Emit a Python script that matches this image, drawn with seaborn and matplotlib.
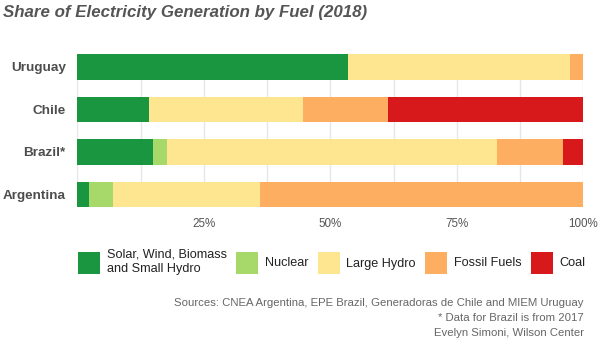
import matplotlib
matplotlib.use("Agg")
import matplotlib.pyplot as plt
from matplotlib.patches import Patch
from matplotlib.ticker import MultipleLocator, FixedLocator
import seaborn as sns
import pandas as pd
import numpy as np

# ---- data ----
countries = ["Uruguay", "Chile", "Brazil*", "Argentina"]
fuels = ["Solar, Wind, Biomass\nand Small Hydro", "Nuclear", "Large Hydro", "Fossil Fuels", "Coal"]
solar_wind_biomass = [53.5, 14.2, 15.0, 2.4]
nuclear = [0.0, 0.0, 2.7, 4.7]
large_hydro = [43.8, 30.5, 65.2, 29.1]
fossil_fuels = [2.7, 16.7, 13.0, 63.8]
coal = [0.0, 38.6, 4.1, 0.0]
tick_values = [25, 50, 75, 100]
tick_labels = ["25%", "50%", "75%", "100%"]
title = "Share of Electricity Generation by Fuel (2018)"
sources = ("Sources: CNEA Argentina, EPE Brazil, Generadoras de Chile and MIEM Uruguay\n"
           "* Data for Brazil is from 2017\n"
           "Evelyn Simoni, Wilson Center")

colors = ["#1a9641", "#a6d96a", "#fee690", "#fdae61", "#d7191c"]

sns.set_theme(style="white")
plt.rcParams["font.family"] = ["Liberation Sans", "DejaVu Sans"]

series = [solar_wind_biomass, nuclear, large_hydro, fossil_fuels, coal]
cum = np.cumsum(np.array(series), axis=0)

fig = plt.figure(figsize=(6, 3.45), dpi=100)
ax = fig.add_axes([77.3 / 600, 1 - 207 / 345, (583.3 - 77.3) / 600, 153 / 345])

# draw cumulative bars, last segment first so earlier ones overlay
for i in range(len(series) - 1, -1, -1):
    df = pd.DataFrame({"country": countries, "value": cum[i]})
    sns.barplot(data=df, y="country", x="value", order=countries, color=colors[i],
                width=0.6, saturation=1, ax=ax, zorder=2, linewidth=0)

ax.set_xlim(0, 100)
ax.set_ylim(3.3, -0.3)
ax.xaxis.set_major_locator(FixedLocator(tick_values))
ax.set_xticklabels(tick_labels)
ax.xaxis.set_minor_locator(MultipleLocator(12.5))
ax.grid(True, axis="x", which="both", color="#e6e6e6", linewidth=1, zorder=0)
ax.set_axisbelow(True)
for s in ax.spines.values():
    s.set_visible(False)
ax.set_xlabel("")
ax.set_ylabel("")
ax.tick_params(axis="x", which="both", length=0, pad=8.2, labelsize=8.4, labelcolor="#555555")
ax.tick_params(axis="y", length=0, pad=8.4)
for lab in ax.get_yticklabels():
    lab.set_fontsize(9.7)
    lab.set_fontweight("bold")
    lab.set_color("#4d4d4d")

fig.text(3.3 / 600, 1 - 12 / 345, title, fontsize=12.2, fontweight="bold", fontstyle="italic",
         color="#555555", ha="left", va="center")

handles = [Patch(facecolor=c, edgecolor="none") for c in colors]
fs = 9.1
em = fs * 100 / 72
hh = (22 / em - 0.245) / 0.65
leg = fig.legend(handles, fuels, ncol=5, loc="center left",
                 bbox_to_anchor=(78.3 / 600, 1 - 262 / 345), frameon=False, fontsize=fs,
                 handlelength=22 / em, handleheight=hh, handletextpad=6.5 / em,
                 columnspacing=9.4 / em, borderpad=0, borderaxespad=0, labelcolor="#222222")
for t in leg.get_texts():
    t.set_linespacing(1.27)

fig.text(584 / 600, 1 - 318 / 345, sources, fontsize=8.2, color="#666666",
         ha="right", va="center", linespacing=1.6)

fig.savefig("out.png", dpi=100)
